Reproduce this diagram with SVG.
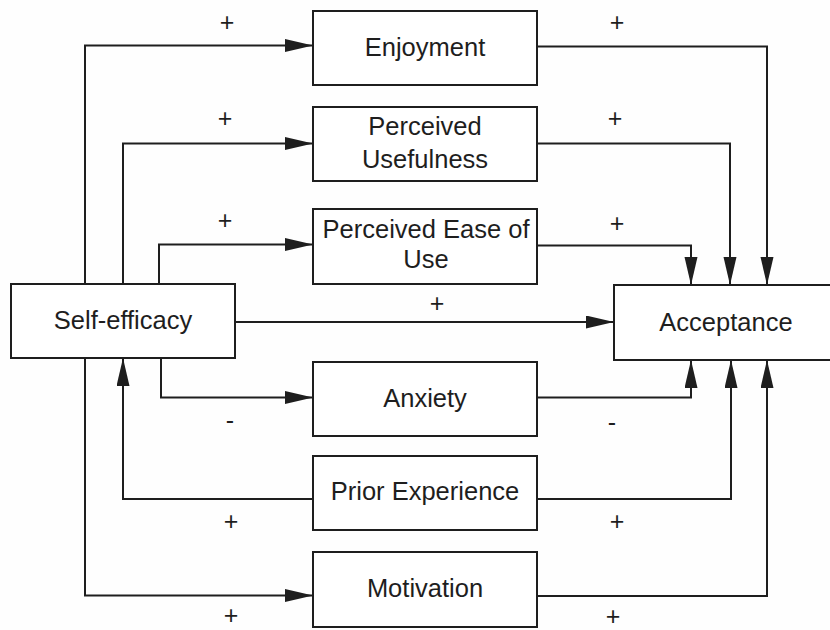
<svg xmlns="http://www.w3.org/2000/svg" width="830" height="630" viewBox="0 0 830 630">
  <style>
    .box { fill: #ffffff; stroke: #1e1e1e; stroke-width: 2; }
    .lbl { font-family: "Liberation Sans", Arial, sans-serif; font-size: 25.5px; fill: #1e1e1e; text-anchor: middle; }
    .sign { font-family: "Liberation Sans", Arial, sans-serif; font-size: 25px; fill: #1e1e1e; text-anchor: middle; }
    .edge { fill: none; stroke: #1e1e1e; stroke-width: 2; marker-end: url(#arrow); }
  </style>
  <defs>
    <marker id="arrow" markerUnits="userSpaceOnUse" markerWidth="28" markerHeight="14" refX="28" refY="6.5" orient="auto">
      <path d="M0,0 L28,6.5 L0,13 Z" fill="#1e1e1e"/>
    </marker>
  </defs>
  <rect width="830" height="630" fill="#fefefe"/>

  <!-- connectors -->
  <g id="connectors">
    <path class="edge" d="M85,284 V45.5 H313"/>
    <path class="edge" d="M123,284 V143.5 H313"/>
    <path class="edge" d="M159,284 V244.5 H313"/>
    <path class="edge" d="M235,322 H614"/>
    <path class="edge" d="M161,358 V397.5 H313"/>
    <path class="edge" d="M313,499 H123 V358"/>
    <path class="edge" d="M85,358 V595.5 H313"/>

    <path class="edge" d="M537,46.5 H767 V285"/>
    <path class="edge" d="M537,143.5 H730 V285"/>
    <path class="edge" d="M537,245.5 H691 V285"/>
    <path class="edge" d="M537,397.5 H691 V360"/>
    <path class="edge" d="M537,499 H731 V360"/>
    <path class="edge" d="M537,596 H767 V360"/>

    <text class="sign" x="227" y="31">+</text>
    <text class="sign" x="225" y="127">+</text>
    <text class="sign" x="225" y="229">+</text>
    <text class="sign" x="617" y="31">+</text>
    <text class="sign" x="615" y="127">+</text>
    <text class="sign" x="617" y="232">+</text>
    <text class="sign" x="437" y="312">+</text>
    <text class="sign" x="230" y="429">-</text>
    <text class="sign" x="612" y="431">-</text>
    <text class="sign" x="231" y="530">+</text>
    <text class="sign" x="617" y="530">+</text>
    <text class="sign" x="231" y="624">+</text>
    <text class="sign" x="613" y="625">+</text>
  </g>

  <!-- nodes -->
  <g id="self-efficacy">
    <rect class="box" x="11" y="284" width="224" height="74"/>
    <text class="lbl" x="123" y="329">Self-efficacy</text>
  </g>
  <g id="enjoyment">
    <rect class="box" x="313" y="11" width="224" height="74"/>
    <text class="lbl" x="425" y="56">Enjoyment</text>
  </g>
  <g id="perceived-usefulness">
    <rect class="box" x="313" y="107" width="224" height="74"/>
    <text class="lbl" x="425" y="135">Perceived</text>
    <text class="lbl" x="425" y="168">Usefulness</text>
  </g>
  <g id="perceived-ease-of-use">
    <rect class="box" x="313" y="209" width="224" height="75"/>
    <text class="lbl" x="426" y="238">Perceived Ease of</text>
    <text class="lbl" x="426" y="268">Use</text>
  </g>
  <g id="anxiety">
    <rect class="box" x="313" y="362" width="224" height="74"/>
    <text class="lbl" x="425" y="407">Anxiety</text>
  </g>
  <g id="prior-experience">
    <rect class="box" x="313" y="456" width="224" height="74"/>
    <text class="lbl" x="425" y="500">Prior Experience</text>
  </g>
  <g id="motivation">
    <rect class="box" x="313" y="552" width="224" height="75"/>
    <text class="lbl" x="425" y="597">Motivation</text>
  </g>
  <g id="acceptance">
    <rect class="box" x="614" y="285" width="226" height="75"/>
    <text class="lbl" x="726" y="331">Acceptance</text>
  </g>
</svg>
